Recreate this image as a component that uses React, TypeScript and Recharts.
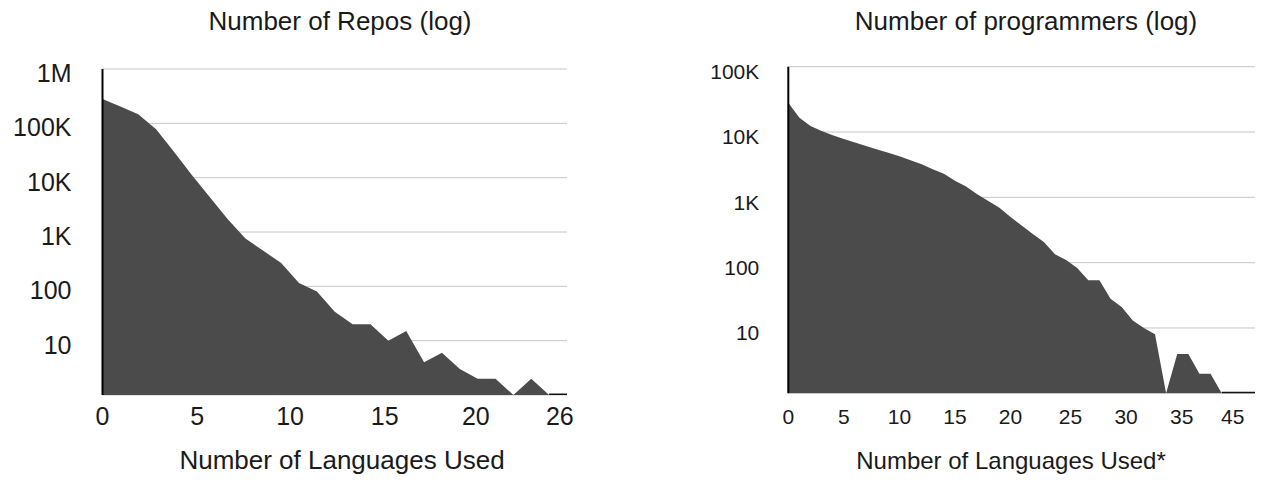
import React from 'react';
import { ComposedChart, Area, Line, XAxis, YAxis, CartesianGrid } from 'recharts';

// ---------- Left chart: Number of Repos (log) ----------
const repoLanguages = [0, 1, 2, 3, 4, 5, 6, 7, 8, 9, 10, 11, 12, 13, 14, 15, 16, 17, 18, 19, 20, 21, 22, 23, 24, 25, 26];
const repoCounts = [280000, 205000, 147000, 78000, 30000, 11200, 4400, 1740, 760, 450, 270, 115, 80, 34, 20, 20, 10, 15, 4, 6, 3, 2, 2, 1, 2, 1, 1];
const repoXTickPositions = [0, 5.3, 10.5, 15.8, 20.9, 25.6];
const repoXTickLabels = ['0', '5', '10', '15', '20', '26'];
const repoYTicks = [10, 100, 1000, 10000, 100000, 1000000];
const repoYTickLabels = ['10', '100', '1K', '10K', '100K', '1M'];

// ---------- Right chart: Number of programmers (log) ----------
const progLanguages = [0, 1, 2, 3, 4, 5, 6, 7, 8, 9, 10, 11, 12, 13, 14, 15, 16, 17, 18, 19, 20, 21, 22, 23, 24, 25, 26, 27, 28, 29, 30, 31, 32, 33, 34, 35, 36, 37, 38, 39, 40, 41, 42];
const progCounts = [28000, 16500, 12400, 10400, 8900, 7800, 6900, 6100, 5400, 4800, 4250, 3700, 3200, 2700, 2300, 1800, 1470, 1120, 880, 690, 500, 370, 275, 207, 135, 110, 83, 54, 54, 28, 21, 13, 10, 8, 1, 4, 4, 2, 2, 1, 1, 1, 1];
const progXTickPositions = [0, 5, 10, 15, 20, 25.4, 30.4, 35.4, 40];
const progXTickLabels = ['0', '5', '10', '15', '20', '25', '30', '35', '45'];
const progYTicks = [10, 100, 1000, 10000, 100000];
const progYTickLabels = ['10', '100', '1K', '10K', '100K'];

const repoData = repoLanguages.map((lang, i) => ({
  lang,
  count: repoCounts[i],
  floor: repoCounts[i] <= 1 ? 1 : null,
}));
const progData = progLanguages.map((lang, i) => ({
  lang,
  count: progCounts[i],
  floor: progCounts[i] <= 1 ? 1 : null,
}));

const FONT = '"Liberation Sans", Arial, Helvetica, sans-serif';
const TEXT = '#1a1a1a';
const FILL = '#4b4b4b';
const GRID = '#c6c6c6';

function makeXTick(positions: number[], labels: string[], fontSize: number, offset: number) {
  return (props: any) => {
    const { x, y, payload, index } = props;
    let idx = positions.indexOf(payload?.value);
    if (idx < 0) idx = index;
    return (
      <text x={x} y={y + offset} dy="0.355em" textAnchor="middle" fontSize={fontSize} fontFamily={FONT} fill={TEXT}>
        {labels[idx]}
      </text>
    );
  };
}

function makeYTick(ticks: number[], labels: string[], fontSize: number, offset: number) {
  return (props: any) => {
    const { x, y, payload, index } = props;
    let idx = ticks.indexOf(payload?.value);
    if (idx < 0) idx = index;
    return (
      <text x={x} y={y + offset} dy="0.355em" textAnchor="end" fontSize={fontSize} fontFamily={FONT} fill={TEXT}>
        {labels[idx]}
      </text>
    );
  };
}

const titleStyle = (cx: number, cy: number, size: number): React.CSSProperties => ({
  position: 'absolute',
  left: cx - 300,
  width: 600,
  top: cy - size * 0.6,
  textAlign: 'center',
  fontSize: size,
  lineHeight: `${size * 1.2}px`,
  fontFamily: FONT,
  color: TEXT,
  whiteSpace: 'nowrap',
});

export default function App() {
  return (
    <div style={{ position: 'absolute', left: 0, top: 0, width: 1262, height: 485, background: '#fff', overflow: 'hidden' }}>
      <div style={titleStyle(340, 22, 26)}>Number of Repos (log)</div>
      <div style={titleStyle(1026, 22, 26)}>Number of programmers (log)</div>
      <div style={titleStyle(342, 461, 26)}>Number of Languages Used</div>
      <div style={titleStyle(1011, 461, 24)}>Number of Languages Used*</div>

      <div style={{ position: 'absolute', left: 0, top: 0 }}>
        <ComposedChart width={620} height={485} data={repoData} margin={{ top: 69, right: 53, bottom: 60, left: 22.5 }}>
          <CartesianGrid horizontal vertical={false} stroke={GRID} strokeWidth={1} />
          <XAxis
            dataKey="lang"
            type="number"
            domain={[0, 26]}
            ticks={repoXTickPositions}
            interval={0}
            axisLine={false}
            tickLine={false}
            tickSize={0}
            tickMargin={0}
            height={30}
            allowDataOverflow
            tick={makeXTick(repoXTickPositions, repoXTickLabels, 25, 21)}
          />
          <YAxis
            type="number"
            scale="log"
            domain={[1, 1000000]}
            ticks={repoYTicks}
            interval={0}
            allowDataOverflow
            width={80}
            axisLine={{ stroke: '#000', strokeWidth: 2 }}
            tickLine={false}
            tickSize={0}
            tickMargin={31}
            tick={makeYTick(repoYTicks, repoYTickLabels, 25, 4)}
          />
          <Area
            type="linear"
            dataKey="count"
            baseValue={1}
            fill={FILL}
            fillOpacity={1}
            stroke="none"
            isAnimationActive={false}
            dot={false}
            activeDot={false}
          />
          <Line
            type="linear"
            dataKey="floor"
            stroke="#111"
            strokeWidth={3}
            dot={false}
            activeDot={false}
            connectNulls={false}
            isAnimationActive={false}
          />
        </ComposedChart>
      </div>

      <div style={{ position: 'absolute', left: 640, top: 0 }}>
        <ComposedChart width={622} height={485} data={progData} margin={{ top: 66.7, right: 7, bottom: 61.7, left: 68.3 }}>
          <CartesianGrid horizontal vertical={false} stroke={GRID} strokeWidth={1} />
          <XAxis
            dataKey="lang"
            type="number"
            domain={[0, 42]}
            ticks={progXTickPositions}
            interval={0}
            axisLine={false}
            tickLine={false}
            tickSize={0}
            tickMargin={0}
            height={30}
            allowDataOverflow
            tick={makeXTick(progXTickPositions, progXTickLabels, 21, 23)}
          />
          <YAxis
            type="number"
            scale="log"
            domain={[1, 100000]}
            ticks={progYTicks}
            interval={0}
            allowDataOverflow
            width={80}
            axisLine={{ stroke: '#000', strokeWidth: 2 }}
            tickLine={false}
            tickSize={0}
            tickMargin={29}
            tick={makeYTick(progYTicks, progYTickLabels, 21, 5)}
          />
          <Area
            type="linear"
            dataKey="count"
            baseValue={1}
            fill={FILL}
            fillOpacity={1}
            stroke="none"
            isAnimationActive={false}
            dot={false}
            activeDot={false}
          />
          <Line
            type="linear"
            dataKey="floor"
            stroke="#111"
            strokeWidth={3}
            dot={false}
            activeDot={false}
            connectNulls={false}
            isAnimationActive={false}
          />
        </ComposedChart>
      </div>
    </div>
  );
}
